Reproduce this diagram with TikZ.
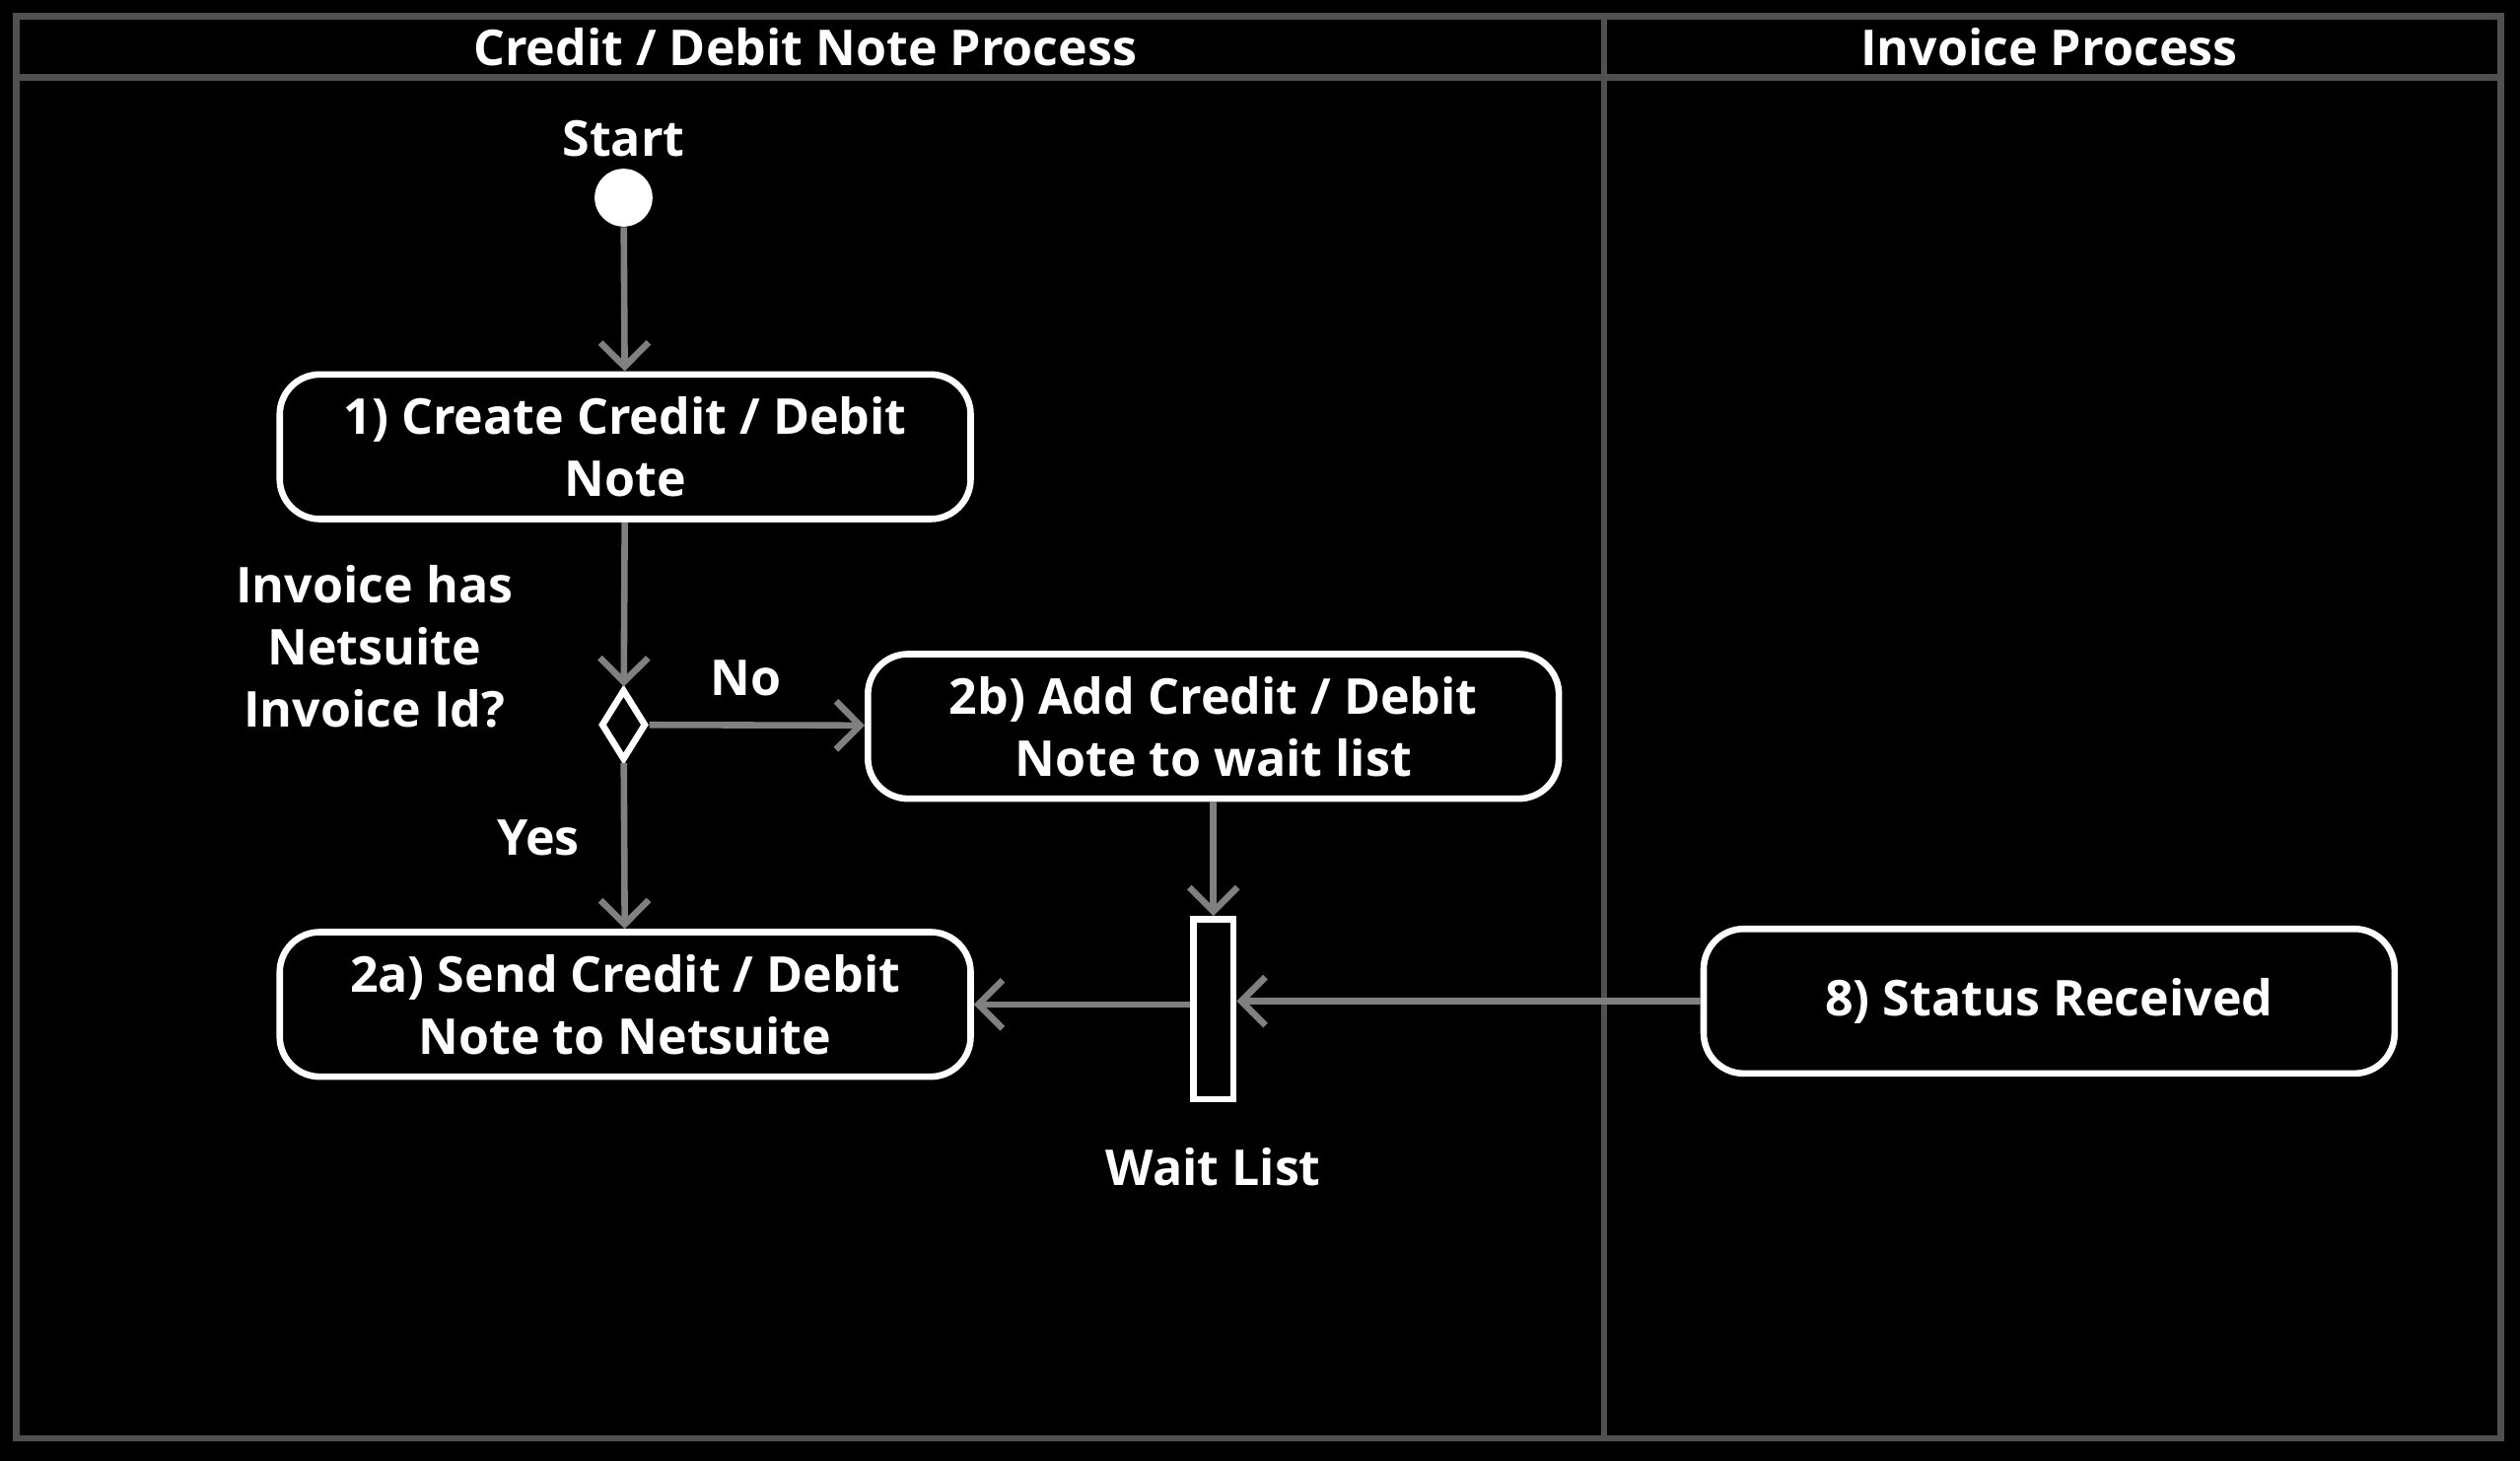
\documentclass[tikz,border=0pt]{standalone}
\usepackage{fontspec}
\setmainfont{Open Sans}
\usetikzlibrary{arrows.meta,shapes.geometric}
\definecolor{lanegray}{RGB}{80,80,80}
\definecolor{flowgray}{RGB}{128,128,128}
\tikzset{
  txt/.style={text=white,font=\fontsize{17.5}{22}\selectfont\bfseries,align=center},
  action/.style={txt,draw=white,line width=2.3pt,rounded corners=0.5cm,minimum width=8.6cm,minimum height=1.8cm,inner sep=0pt},
  flow/.style={draw=flowgray,line width=2.3pt,-{Straight Barb[length=0.3cm,width=0.6cm]}},
}
\begin{document}
\begin{tikzpicture}[x=0.02cm,y=-0.02cm]
  \fill[black] (0,0) rectangle (1568,909);
  \useasboundingbox (0,0) rectangle (1568,909);
  % swimlanes
  \draw[lanegray,line width=2.3pt] (10,10) rectangle (1556,895);
  \draw[lanegray,line width=2.3pt] (10,48) -- (1556,48);
  \draw[lanegray,line width=2.3pt] (998,10) -- (998,895);
  \node[txt] (laneA) at (501,29) {Credit / Debit Note Process};
  \node[txt] (laneB) at (1275,29) {Invoice Process};
  % nodes
  \node[txt] (startlbl) at (388,86) {Start};
  \node[circle,fill=white,minimum size=0.72cm,inner sep=0pt] (start) at (388,123) {};
  \node[action] (create) at (389,278) {1) Create Credit / Debit\\Note};
  \node[diamond,draw=white,fill=black,line width=2.3pt,minimum width=0.56cm,minimum height=0.88cm,inner sep=0pt,aspect=0.6] (check) at (388,451) {};
  \node[txt] (question) at (233,402) {Invoice has\\Netsuite\\Invoice Id?};
  \node[action] (wait) at (755,452) {2b) Add Credit / Debit\\Note to wait list};
  \node[action] (send) at (389,625) {2a) Send Credit / Debit\\Note to Netsuite};
  \node[draw=white,fill=black,line width=2.3pt,minimum width=0.5cm,minimum height=2.24cm,inner sep=0pt] (bar) at (755,628) {};
  \node[txt] (barlbl) at (755,726) {Wait List};
  \node[action] (status) at (1275,623) {8) Status Received};
  % flows
  \draw[flow] (start) -- (create);
  \draw[flow] (create) -- (check);
  \draw[flow] (check) -- node[txt,above,pos=0.45,yshift=0.2cm] {No} (wait);
  \draw[flow] (check) -- node[txt,left,xshift=-0.4cm,pos=0.45] {Yes} (send);
  \draw[flow] (wait) -- (bar);
  \draw[flow] (bar.west |- send.east) -- (send.east);
  \draw[flow] (status.west) -- (bar.east |- status.west);
\end{tikzpicture}
\end{document}
